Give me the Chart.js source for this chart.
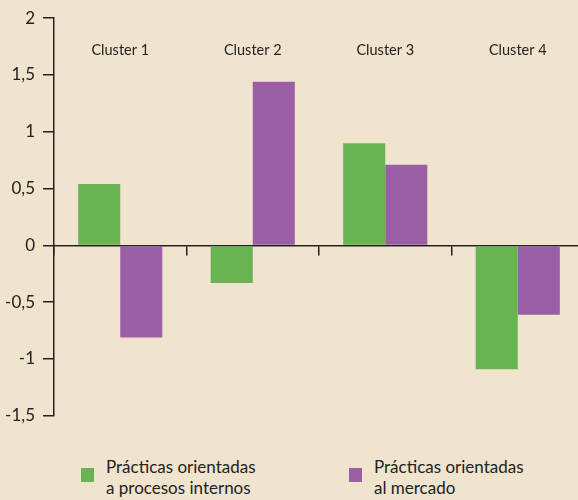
<!DOCTYPE html>
<html>
<head>
<meta charset="utf-8">
<script src="https://cdn.jsdelivr.net/npm/chart.js@4.4.0/dist/chart.umd.min.js"></script>
<style>
  html, body { margin: 0; padding: 0; background: #f0e4ce; overflow: hidden; }
  body { width: 578px; height: 500px; position: relative; font-family: Lato, sans-serif; }
  #wrap { position: absolute; left: 0; top: 0; width: 584px; height: 434px; }
  .legend { position: absolute; top: 456px; font-size: 17px; line-height: 21px; color: #222; }
  .legend .box { position: absolute; left: 0; top: 12px; width: 13px; height: 14px; }
  .legend .txt { position: absolute; left: 25px; top: 0; white-space: nowrap; }
</style>
</head>
<body>
<div id="wrap"><canvas id="chart" width="584" height="434"></canvas></div>
<div class="legend" id="leg0" style="left:81px"><div class="box"></div><div class="txt"></div></div>
<div class="legend" id="leg1" style="left:349px"><div class="box"></div><div class="txt"></div></div>
<script>
const clusters = ['Cluster 1', 'Cluster 2', 'Cluster 3', 'Cluster 4'];
const internos = [0.54, -0.33, 0.90, -1.09];
const mercado = [-0.81, 1.44, 0.71, -0.61];
const seriesNames = [
  ['Prácticas orientadas', 'a procesos internos'],
  ['Prácticas orientadas', 'al mercado']
];
const seriesColors = ['#6ab352', '#9b5fa6'];
const yTicks = [2, 1.5, 1, 0.5, 0, -0.5, -1, -1.5];

// legend in html, two lines each
seriesNames.forEach(function (name, i) {
  const leg = document.getElementById('leg' + i);
  leg.querySelector('.box').style.background = seriesColors[i];
  leg.querySelector('.txt').innerHTML = name.join('<br>');
});

// cluster names drawn at the top of the plot
const clusterLabels = {
  id: 'clusterLabels',
  afterDraw(chart) {
    const ctx = chart.ctx;
    const x = chart.scales.x;
    ctx.save();
    ctx.font = '14.5px Lato';
    ctx.fillStyle = '#222';
    ctx.textAlign = 'center';
    ctx.textBaseline = 'middle';
    clusters.forEach(function (c, i) {
      ctx.fillText(c, x.getPixelForValue(i), 50);
    });
    ctx.restore();
  }
};

new Chart(document.getElementById('chart'), {
  type: 'bar',
  data: {
    labels: clusters,
    datasets: [
      { label: seriesNames[0].join(' '), data: internos, backgroundColor: seriesColors[0] },
      { label: seriesNames[1].join(' '), data: mercado, backgroundColor: seriesColors[1] }
    ]
  },
  options: {
    responsive: false,
    animation: false,
    layout: { padding: { top: 13, bottom: 10, left: 0, right: 0 } },
    datasets: { bar: { categoryPercentage: 0.635, barPercentage: 1.0 } },
    plugins: { legend: { display: false }, tooltip: { enabled: false } },
    scales: {
      x: {
        position: { y: 0 },
        afterFit: function (s) { s.height = 0; },
        ticks: { display: false },
        grid: { offset: true, drawOnChartArea: false, drawTicks: true, tickLength: 9, color: '#222', lineWidth: 1.5 },
        border: { display: true, color: '#222', width: 1.5 }
      },
      y: {
        min: -1.5,
        max: 2,
        afterFit: function (s) { s.width = 54; },
        afterBuildTicks: function (s) { s.ticks = yTicks.map(v => ({ value: v })); },
        ticks: {
          padding: 8,
          color: '#222',
          font: { family: 'Lato', size: 17 },
          callback: v => String(v).replace('.', ',')
        },
        grid: { drawOnChartArea: false, drawTicks: true, tickLength: 11, color: '#222', lineWidth: 1.5 },
        border: { display: true, color: '#222', width: 1.5 }
      }
    }
  },
  plugins: [clusterLabels]
});
</script>
</body>
</html>
